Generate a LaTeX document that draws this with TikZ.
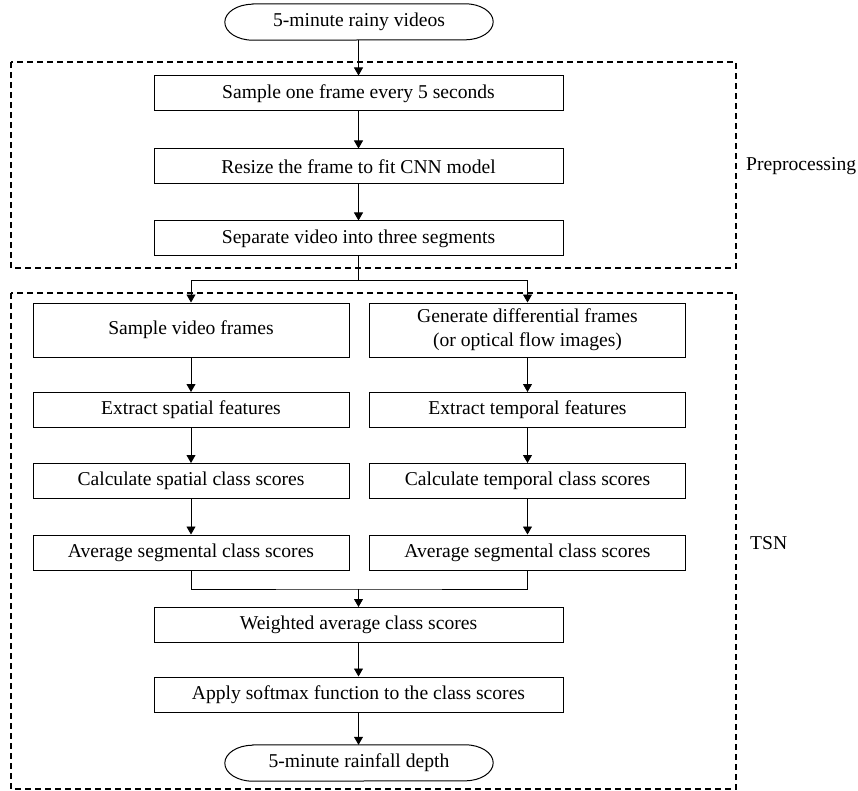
\documentclass[tikz,border=0pt]{standalone}
\usepackage{fontspec}
\setmainfont{Liberation Serif}
\usetikzlibrary{arrows.meta,positioning}
\begin{document}
\begin{tikzpicture}[x=1pt,y=-1pt,
  every node/.style={font=\fontsize{19.6}{24}\selectfont, inner sep=0pt},
  box/.style={draw, line width=1pt, minimum height=35pt, align=center},
  wide/.style={box, minimum width=409pt},
  col/.style={box, minimum width=316pt},
  term/.style={minimum width=268pt, minimum height=36pt},
  arr/.style={-{Triangle[length=8pt,width=9pt]}, line width=0.8pt},
  conn/.style={line width=0.8pt},
  group/.style={draw, line width=1.5pt, dash pattern=on 6pt off 4pt}
]
\useasboundingbox (0,0) rectangle (858,791);

% groups
\draw[group] (11,62) rectangle (736,268);
\draw[group] (11,293) rectangle (736,789);
\node[anchor=west] (lpre) at (746,166) {Preprocessing};
\node[anchor=west] (ltsn) at (750,543) {TSN};

% start terminal
\node[term] (start) at (359,22) {5-minute rainy videos};
\draw[line width=1pt] ([xshift=28pt]start.north west) -- ([xshift=-28pt]start.north east)
  arc[start angle=90,end angle=-90,x radius=28pt,y radius=18pt]
  -- ([xshift=28pt]start.south west)
  arc[start angle=270,end angle=90,x radius=28pt,y radius=18pt] -- cycle;

\node[wide] (p1) at (358.5,93.5) {Sample one frame every 5 seconds};
\node[wide] (p2) at (358.5,166.5) {Resize the frame to fit CNN model};
\node[wide] (p3) at (358.5,238.5) {Separate video into three segments};

\node[col, minimum height=54pt] (s1) at (191,330) {Sample video frames};
\node[col, minimum height=54pt] (t1) at (527.5,330) {Generate differential frames\\(or optical flow images)};
\node[col] (s2) at (191,410) {Extract spatial features};
\node[col] (t2) at (527.5,410) {Extract temporal features};
\node[col] (s3) at (191,481) {Calculate spatial class scores};
\node[col] (t3) at (527.5,481) {Calculate temporal class scores};
\node[col] (s4) at (191,552.5) {Average segmental class scores};
\node[col] (t4) at (527.5,552.5) {Average segmental class scores};

\node[wide] (w) at (358.5,625) {Weighted average class scores};
\node[wide] (sm) at (358.5,694.5) {Apply softmax function to the class scores};

\node[term] (end) at (359,763) {5-minute rainfall depth};
\draw[line width=1pt] ([xshift=28pt]end.north west) -- ([xshift=-28pt]end.north east)
  arc[start angle=90,end angle=-90,x radius=28pt,y radius=18pt]
  -- ([xshift=28pt]end.south west)
  arc[start angle=270,end angle=90,x radius=28pt,y radius=18pt] -- cycle;

% connectors
\draw[arr] (start.south -| p1.north) -- (p1.north);
\draw[arr] (p1) -- (p2);
\draw[arr] (p2) -- (p3);
\coordinate (split) at (358.5,280);
\draw[conn] (p3.south) -- (split);
\draw[arr] (split) -| (s1.north);
\draw[arr] (split) -| (t1.north);
\draw[arr] (s1) -- (s2);
\draw[arr] (s2) -- (s3);
\draw[arr] (s3) -- (s4);
\draw[arr] (t1) -- (t2);
\draw[arr] (t2) -- (t3);
\draw[arr] (t3) -- (t4);
\coordinate (merge) at (358.5,589);
\draw[conn] (s4.south) |- (merge) -| (t4.south);
\draw[arr] (merge) -- (w.north);
\draw[arr] (w) -- (sm);
\draw[arr] (sm.south) -- (sm.south |- end.north);
\end{tikzpicture}
\end{document}
